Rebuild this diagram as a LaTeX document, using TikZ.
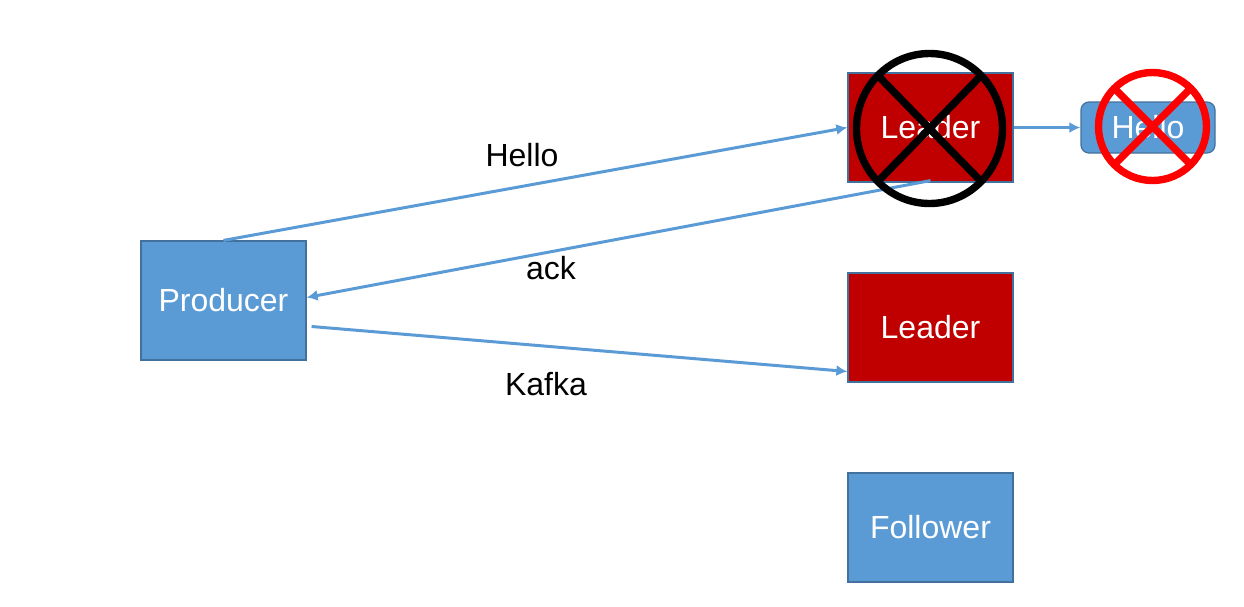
\documentclass[tikz,border=0pt]{standalone}
\usepackage{fontspec}
\setmainfont{Liberation Sans}
\usetikzlibrary{arrows.meta}
\definecolor{boxblue}{HTML}{5B9BD5}
\definecolor{boxedge}{HTML}{41719C}
\definecolor{leadred}{HTML}{C00000}

\begin{document}
\begin{tikzpicture}[x=0.5pt,y=-0.5pt,
        box/.style={draw=boxedge, line width=0.6pt, inner sep=0pt, text=white,
            minimum width=82.5pt, minimum height=54.5pt, font=\fontsize{16}{19}\selectfont},
        link/.style={draw=boxblue, line width=1.5pt, -{Latex[length=5.5pt,width=5.5pt]}},
        lbl/.style={font=\fontsize{16}{19}\selectfont, inner sep=0pt}]
        \useasboundingbox (0,0) rectangle (1244,606);

        \node [box, fill=boxblue, minimum height=59.5pt] (prod) at (223.5,300.5) {Producer};
        \node [box, fill=leadred] (lead1) at (930.5,127.5) {Leader};
        \node [box, fill=leadred] (lead2) at (930.5,327.5) {Leader};
        \node [box, fill=boxblue] (foll) at (930.5,527.5) {Follower};
        \node [box, fill=boxblue, rounded corners=4pt, minimum width=67pt,
            minimum height=25.5pt] (msg) at (1148,127.5) {Hello};

        \draw [link] (prod.north) -- (lead1.west);
        \draw [link] ([yshift=1pt]lead1.south) -- ([yshift=1.5pt]prod.east);
        \draw [link] ([xshift=2.5pt,yshift=-13pt]prod.east) -- ([yshift=-22pt]lead2.west);
        \draw [link] (lead1.east) -- (msg.west);

        \node [lbl] (hello) at (522,155) {Hello};
        \node [lbl] (ack) at (551,268) {ack};
        \node [lbl] (kafka) at (546,384) {Kafka};

        \foreach \cx/\cy/\rx/\ry/\c in {929.5/128.5/73/75/black, 1152.5/126.5/54/54/red} {
            \draw [\c, line width=3.7pt] (\cx,\cy) ellipse [x radius=\rx, y radius=\ry];
            \draw [\c, line width=3.7pt] (\cx,\cy) ++(0.72*\rx,0.72*\ry) -- ++(-1.44*\rx,-1.44*\ry);
            \draw [\c, line width=3.7pt] (\cx,\cy) ++(-0.72*\rx,0.72*\ry) -- ++(1.44*\rx,-1.44*\ry);
        };
    \end{tikzpicture}
\end{document}
